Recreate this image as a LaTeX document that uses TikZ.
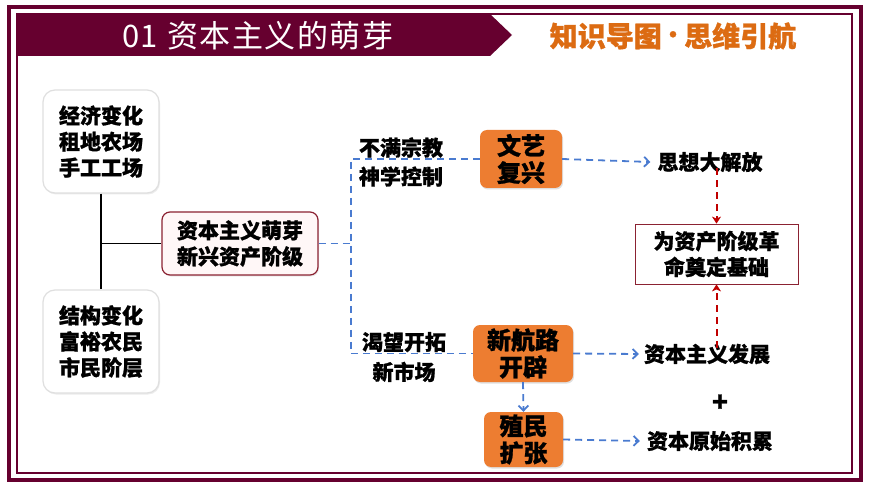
\documentclass[tikz,border=0pt]{standalone}
\usepackage{fontspec}
\usetikzlibrary{arrows.meta,shadows}
\newfontfamily\cjk{Noto Sans CJK SC}[BoldFeatures={FakeBold=1.0}]
\newfontfamily\cjkt{Noto Sans CJK SC}
\definecolor{maroon}{HTML}{66002F}
\definecolor{orangebox}{HTML}{ED7D31}
\definecolor{titleorange}{HTML}{DC6B12}
\definecolor{bluedash}{HTML}{4A7BD0}
\definecolor{reddash}{HTML}{C00000}
\definecolor{capred}{HTML}{8B2232}
\newcommand{\tsp}{\hspace{1.5pt}}
\tikzset{
  txt/.style={font=\cjk\bfseries\fontsize{21}{26}\selectfont, align=center, inner sep=0pt, text=black},
  graybox/.style={txt, draw=gray!25, line width=1.2pt, fill=white, rounded corners=12pt,
     minimum width=116pt, minimum height=103pt, drop shadow={opacity=0.15, shadow xshift=1pt, shadow yshift=-1.5pt}},
  capbox/.style={txt, draw=capred, line width=1.2pt, fill=red!3, rounded corners=8pt,
     minimum width=156pt, minimum height=63pt, drop shadow={opacity=0.15, shadow xshift=1pt, shadow yshift=-1.5pt}},
  obox/.style={font=\cjk\bfseries\fontsize{24}{27}\selectfont, align=center, inner sep=0pt, fill=orangebox,
     rounded corners=7pt, drop shadow={opacity=0.25, shadow xshift=1pt, shadow yshift=-1.5pt}},
  redbox/.style={txt, draw=capred, line width=0.8pt, fill=white, minimum width=163pt, minimum height=60pt},
  blk/.style={draw=black, line width=1.2pt},
  bd/.style={draw=bluedash, line width=1.8pt, dash pattern=on 7pt off 5pt},
  bda/.style={bd, -{Straight Barb[length=5pt,width=10pt,line width=1.8pt]}},
  rda/.style={draw=reddash, line width=2pt, dash pattern=on 7pt off 5pt, -{Stealth[length=7pt,width=9pt,inset=2pt]}},
}
\begin{document}
\begin{tikzpicture}[x=1pt,y=-1pt]
\useasboundingbox (0,0) rectangle (870,489);
\fill[white] (0,0) rectangle (870,489);
% frames
\draw[maroon, line width=4pt] (9,7) rectangle (861,480);
\draw[maroon, line width=1.5pt] (17,14) rectangle (852,473);
\fill[maroon] (17,14) -- (490,14) -- (512,35) -- (490,56) -- (17,56) -- cycle;
\node[font=\cjkt\fontsize{31}{31}\selectfont, text=white, inner sep=0pt] (title) at (258,36) {01\hspace{10pt}资\tsp 本\tsp 主\tsp 义\tsp 的\tsp 萌\tsp 芽};
\node[font=\cjk\bfseries\fontsize{28}{28}\selectfont, text=titleorange, inner sep=0pt] (sub) at (673,36) {知识导图\raisebox{0.25ex}{\scalebox{0.8}{•}}思维引航};

% left boxes
\node[graybox] (b1) at (101,141.5) {经济变化\\租地农场\\手工工场};
\node[graybox] (b2) at (101,341.5) {结构变化\\富裕农民\\市民阶层};
\node[capbox] (cap) at (240,243.5) {资本主义萌芽\\新兴资产阶级};
\draw[blk] (b1.south) -- (b2.north);
\coordinate (m) at (b1.south |- cap.west);
\draw[blk] (m) -- (cap.west);

% orange boxes
\node[obox, minimum width=82pt, minimum height=58pt] (rn) at (521,159) {文艺\\复兴};
\node[obox, minimum width=100pt, minimum height=57pt] (nr) at (523,353.5) {新航路\\开辟};
\node[obox, minimum width=79pt, minimum height=55pt] (zm) at (523.5,439.5) {殖民\\扩张};

% labels on branches
\node[txt, font=\cjk\bfseries\fontsize{21}{29}\selectfont] (l1) at (401,162) {不满宗教\\神学控制};
\node[txt, font=\cjk\bfseries\fontsize{21}{30}\selectfont] (l2) at (404,357) {渴望开拓\\新市场};

% blue tree
\path (cap.east) ++(32,0) coordinate (j);
\draw[bd] (cap.east) -- (j);
\draw[bd] (rn.west) -- (rn.west -| j) -- (nr.west -| j) -- (nr.west);

% result texts
\node[txt] (sx) at (710,162) {思想大解放};
\node[txt] (fz) at (707,354) {资本主义发展};
\node[txt] (jl) at (710,441) {资本原始积累};
\node[redbox] (rb) at (716.5,254) {为资产阶级革\\命奠定基础};
\node[font=\cjk\bfseries\fontsize{26}{26}\selectfont, inner sep=0pt] (plus) at (720,403) {+};

\draw[bda] (rn.east) -- ([xshift=-7pt]sx.west);
\draw[bda] (nr.east) -- ([xshift=-5pt]fz.west);
\draw[bda] (zm.east) -- ([xshift=-7pt]jl.west);
\draw[bda] (nr.south) -- (zm.north);
\draw[rda] ([yshift=4pt]sx.south -| rb.north) -- (rb.north);
\draw[rda] ([yshift=-4pt]fz.north -| rb.south) -- (rb.south);
\end{tikzpicture}
\end{document}
